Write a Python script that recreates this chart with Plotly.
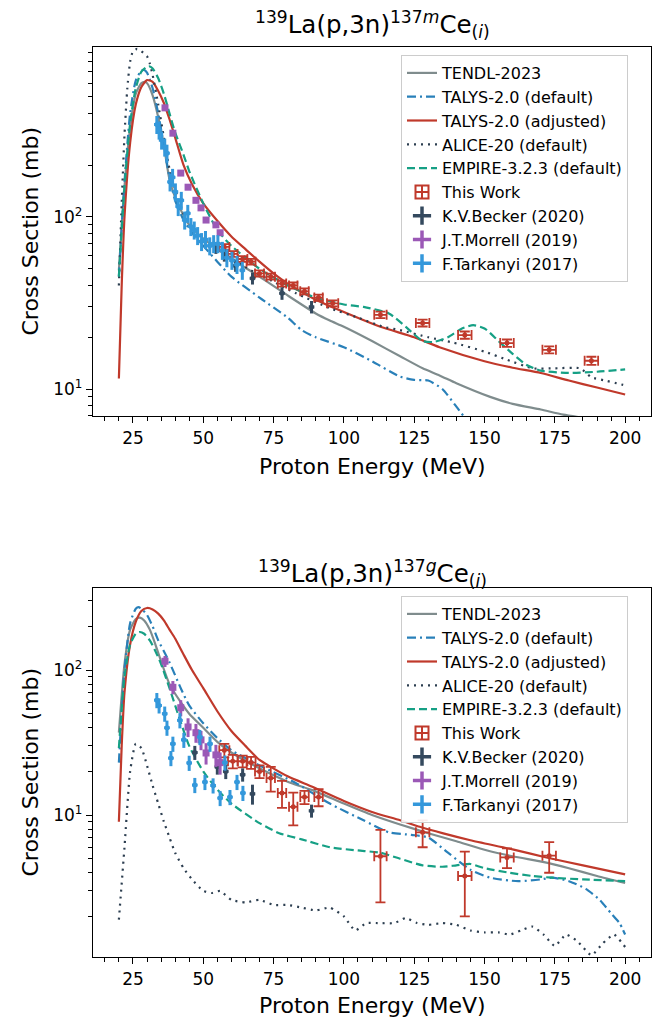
import numpy as np
import plotly.graph_objects as go

# ---------------- Top panel: 139La(p,3n)137mCe ----------------
E_tendl_m = [20, 22, 24, 26, 28, 29.3, 30, 32, 34, 36, 38, 40, 43, 45, 50, 55, 60, 70, 80, 90, 95, 100, 110, 120, 128, 134, 140, 152, 160, 170, 178, 190, 200]
S_tendl_m = [49, 150, 330, 520, 600, 610, 600, 510, 380, 260, 165, 130, 102, 90, 75, 65, 57, 45, 35, 27.5, 25, 23, 19, 15.5, 13.2, 12, 10.8, 9.0, 8.2, 7.6, 7.1, 6.6, 6.2]

E_talys_m = [20, 22, 24, 26, 28, 29, 30, 32, 34, 36, 38, 40, 43, 46, 50, 55, 60, 70, 80, 85, 90, 100, 110, 120, 125, 130, 135, 140, 145, 150, 160, 180, 200]
S_talys_m = [45, 160, 400, 620, 710, 715, 690, 560, 400, 260, 170, 125, 96, 81, 68, 55, 45, 34, 26, 22, 20, 17.5, 14.5, 11.8, 11.3, 11.2, 10, 7.9, 6.2, 5.2, 4.5, 3.8, 3.0]

E_adj_m = [20, 21, 22, 24, 26, 28, 30, 32, 34, 36, 38, 40, 43, 46, 50, 55, 60, 65, 70, 75, 80, 90, 100, 113, 125, 134, 150, 160, 170, 180, 190, 200]
S_adj_m = [11.5, 40, 100, 270, 450, 570, 625, 610, 540, 460, 370, 290, 200, 155, 120, 95, 77, 65, 55, 47, 41, 33, 28, 23, 20, 17.5, 14.5, 13.3, 12.4, 11.2, 10.2, 9.3]

E_alice_m = [20, 21, 22, 23, 24, 25, 26.5, 28, 30, 31, 32, 34, 36, 38, 40, 44, 50, 57, 62, 67, 75, 83, 95, 105, 114, 120, 130, 139, 150, 158, 167, 175, 184, 188, 193, 198, 200]
S_alice_m = [40, 120, 300, 560, 800, 920, 950, 920, 860, 780, 670, 450, 290, 190, 145, 96, 75, 62, 55, 49, 42, 36, 29.5, 26, 23, 22, 20, 18.6, 16.5, 14.8, 13.2, 13.2, 13.2, 11.7, 11.2, 10.7, 10.5]

E_empire_m = [20, 22, 24, 26, 28, 30, 31, 32, 34, 36, 38, 40, 43, 45, 50, 55, 60, 65, 70, 80, 90, 100, 107, 116, 122, 128, 132, 137, 142, 146, 150, 155, 160, 165, 170, 180, 190, 200]
S_empire_m = [45, 150, 350, 560, 700, 745, 750, 730, 640, 520, 400, 310, 230, 185, 120, 84, 68, 58, 50, 40, 34, 31, 30, 27.5, 23, 19, 18.8, 20, 22.5, 23.5, 22.5, 19, 16, 13.8, 12.8, 12.4, 12.6, 13]

E_tw_m = [57.5, 60.5, 64, 67, 70, 74, 78, 82, 86, 91, 96, 113, 128, 143, 158, 173, 188]
S_tw_m = [67, 61, 57, 55, 47, 45, 41, 40, 37, 34, 31.5, 27, 24.2, 20.6, 18.5, 16.9, 14.6]
dS_tw_m = [2.5, 2.3, 2.2, 2.1, 1.9, 1.8, 1.6, 1.6, 1.5, 1.4, 1.3, 1.2, 1.1, 1.0, 0.9, 0.8, 0.8]
dE_tw_m = [1.8, 1.7, 1.7, 1.6, 1.6, 1.5, 1.5, 1.5, 1.5, 1.5, 2.0, 2.2, 2.4, 2.4, 2.4, 2.4, 2.4]

E_becker_m = [54.5, 57.5, 61.5, 67.5, 78, 88.5]
S_becker_m = [66, 60, 52, 44, 36, 30]
dS_becker_m = [5, 5, 4, 3.5, 3, 2.5]

E_morrell_m = [36.4, 39.2, 42, 44.6, 47.4, 49.2, 51, 54.5, 56]
S_morrell_m = [431, 307, 180, 149, 125, 113, 96, 90, 81]
dS_morrell_m = [15, 10, 6, 5, 4, 4, 3, 3, 3]

E_tark_m = [33.5, 34.3, 35.2, 36.3, 37.1, 38.2, 39.1, 40.1, 41.1, 42.2, 43.4, 44.5, 45.6, 46.8, 48.0, 49.4, 50.8, 52.3, 53.7, 55.2, 56.8, 58.4, 60.2, 62.0, 63.9]
S_tark_m = [345, 320, 280, 255, 235, 160, 170, 140, 115, 125, 96, 105, 88, 84, 78, 72, 74, 68, 70, 70, 64, 58, 56, 53, 49]

# ---------------- Bottom panel: 139La(p,3n)137gCe ----------------
E_tendl_g = [20, 22, 24, 26, 27.5, 29, 31, 33, 35, 38, 42, 45, 50, 55, 60, 70, 80, 89, 100, 110, 120, 130, 140, 151, 160, 172, 180, 190, 200]
S_tendl_g = [37, 110, 190, 225, 230, 220, 190, 150, 115, 80, 60, 50, 40, 32, 27, 21, 17, 14.8, 12, 10, 8.6, 7.5, 6.6, 5.7, 5.2, 4.7, 4.3, 3.8, 3.4]

E_talys_g = [20, 22, 24, 26, 27, 28, 30, 32, 34, 36, 38, 42, 45, 50, 55, 60, 70, 83, 95, 107, 116, 124, 130, 137, 145, 152, 162, 170, 174, 180, 186, 191, 195, 198, 200]
S_talys_g = [23, 100, 210, 265, 272, 265, 240, 200, 160, 135, 113, 75, 57, 43, 34, 28, 22, 16.6, 12, 9.2, 7.6, 7.3, 7.0, 5.5, 4.2, 3.7, 3.5, 3.6, 3.7, 3.5, 3.1, 2.6, 2.1, 1.8, 1.5]

E_adj_g = [20, 21, 22, 24, 26, 28, 30, 32, 34, 36, 38, 40, 43, 46, 50, 55, 60, 65, 70, 74, 80, 89, 100, 110, 120, 127, 135, 145, 160, 172, 185, 200]
S_adj_g = [9, 30, 70, 150, 215, 255, 268, 262, 245, 220, 190, 165, 128, 100, 75, 52, 38, 30, 24, 21.5, 18.5, 15.6, 12.5, 10.5, 9.2, 8.3, 7.5, 6.7, 5.8, 5.1, 4.5, 3.9]

E_alice_g = [20, 22, 24, 26, 28, 30, 32, 34, 36, 38, 40, 43, 46, 50, 53, 56, 60, 65, 70, 75, 80, 85, 90, 95, 100, 104, 108, 112, 118, 122, 126, 130, 135, 140, 145, 150, 155, 159, 163, 167, 171, 175, 179, 183, 188, 192, 196, 200]
S_alice_g = [1.9, 6, 20, 31, 29, 22, 16, 12, 9, 7, 5.5, 4.3, 3.6, 3.0, 2.9, 3.0, 2.6, 2.5, 2.6, 2.4, 2.4, 2.3, 2.2, 2.3, 2.0, 1.6, 1.8, 1.8, 1.8, 1.95, 1.8, 1.75, 1.8, 1.75, 1.6, 1.55, 1.55, 1.5, 1.6, 1.7, 1.5, 1.25, 1.5, 1.35, 1.08, 1.3, 1.5, 1.23]

E_empire_g = [20, 22, 24, 26, 27.5, 29, 31, 33, 35, 38, 41, 45, 50, 55, 60, 70, 77, 85, 95, 105, 113, 120, 128, 135, 140, 145, 150, 159, 167, 174, 185, 200]
S_empire_g = [29, 90, 150, 178, 183, 178, 160, 135, 110, 75, 50, 30, 20, 15, 12, 8.8, 7.5, 6.8, 6.0, 5.7, 5.5, 5.0, 4.5, 4.4, 4.5, 4.6, 4.3, 4.0, 3.8, 3.7, 3.6, 3.5]

E_tw_g = [57.5, 60.5, 64, 67, 70, 74, 78, 82, 86, 91, 113, 128, 143, 158, 173]
S_tw_g = [28, 23.5, 23.5, 23, 20, 18, 14.2, 11.4, 13.3, 13.3, 5.2, 7.6, 3.8, 5.1, 5.25]
dS_tw_g = [3, 2.5, 2.2, 2.2, 2, 3.5, 3, 2.9, 1.4, 1.8, 2.7, 1.6, 1.8, 0.8, 1.25]
dE_tw_g = [1.8, 1.7, 1.7, 1.6, 1.6, 1.5, 1.5, 1.5, 1.5, 1.5, 2.2, 2.4, 2.4, 2.4, 2.4]

E_becker_g = [47, 55, 58, 64, 67.5, 88.5]
S_becker_g = [27, 21.5, 20, 19, 14, 10.7]
dS_becker_g = [3, 2.5, 2.3, 2, 2.2, 1.1]

E_morrell_g = [36.4, 39.2, 42, 44.6, 47.4, 49.2, 51, 54.5, 56]
S_morrell_g = [115, 76, 55, 40.5, 37, 33, 26.8, 26, 23]
dS_morrell_g = [10, 8, 7, 6, 5.5, 5, 4.5, 4.5, 4]

E_tark_g = [33.5, 34.3, 36.3, 37.1, 38.5, 39.2, 41.7, 43.1, 45.0, 47.0, 48.8, 50.6, 52.4, 53.5, 56.0, 57.7, 59.5, 62.0, 64.1]
S_tark_g = [62, 57, 50, 40, 24.7, 31, 45, 33, 22.9, 16.1, 34.5, 16.9, 31, 16, 13.1, 23, 13.3, 16.9, 14.2]

# ---------------- styling ----------------
C_TENDL = "#7f8c8d"
C_TALYS = "#2980b9"
C_ADJ = "#c0392b"
C_ALICE = "#2c3e50"
C_EMPIRE = "#16a085"
C_TW = "#c0392b"
C_BECKER = "#34495e"
C_MORRELL = "#9b59b6"
C_TARK = "#3498db"
FONT = "DejaVu Sans, Arial, sans-serif"

fig = go.Figure()


def add_panel(xa, ya, leg, data):
    (Et, St, Ea, Sa, Ej, Sj, Eal, Sal, Ee, Se,
     Etw, Stw, dStw, dEtw, Eb, Sb, dSb, Em, Sm, dSm, Ek, Sk) = data
    common = dict(xaxis=xa, yaxis=ya, legend=leg)
    fig.add_trace(go.Scatter(x=Et, y=St, mode="lines", name="TENDL-2023",
                             line=dict(color=C_TENDL, width=2.2, shape="spline", smoothing=0.6), **common))
    fig.add_trace(go.Scatter(x=Ea, y=Sa, mode="lines", name="TALYS-2.0 (default)",
                             line=dict(color=C_TALYS, width=2.2, dash="9px,4px,2px,4px", shape="spline", smoothing=0.6), **common))
    fig.add_trace(go.Scatter(x=Ej, y=Sj, mode="lines", name="TALYS-2.0 (adjusted)",
                             line=dict(color=C_ADJ, width=2.2, shape="spline", smoothing=0.6), **common))
    fig.add_trace(go.Scatter(x=Eal, y=Sal, mode="lines", name="ALICE-20 (default)",
                             line=dict(color=C_ALICE, width=2.2, dash="2px,5px", shape="spline", smoothing=0.5), **common))
    fig.add_trace(go.Scatter(x=Ee, y=Se, mode="lines", name="EMPIRE-3.2.3 (default)",
                             line=dict(color=C_EMPIRE, width=2.2, dash="8px,4px", shape="spline", smoothing=0.6), **common))
    # experimental data (legend icons added separately to mimic error-bar glyphs)
    fig.add_trace(go.Scatter(x=Etw, y=Stw, mode="markers", name="This Work", showlegend=False,
                             marker=dict(color=C_TW, size=5, symbol="circle"),
                             error_y=dict(type="data", array=dStw, color=C_TW, thickness=1.8, width=5),
                             error_x=dict(type="data", array=dEtw, color=C_TW, thickness=1.8, width=5), **common))
    fig.add_trace(go.Scatter(x=Eb, y=Sb, mode="markers", name="K.V.Becker (2020)", showlegend=False,
                             marker=dict(color=C_BECKER, size=5, symbol="circle"),
                             error_y=dict(type="data", array=dSb, color=C_BECKER, thickness=3, width=0),
                             error_x=dict(type="data", array=[1.0] * len(Eb), color=C_BECKER, thickness=3, width=0), **common))
    fig.add_trace(go.Scatter(x=Em, y=Sm, mode="markers", name="J.T.Morrell (2019)", showlegend=False,
                             marker=dict(color=C_MORRELL, size=7, symbol="square"),
                             error_y=dict(type="data", array=dSm, color=C_MORRELL, thickness=3, width=0),
                             error_x=dict(type="data", array=[0.5] * len(Em), color=C_MORRELL, thickness=3, width=0), **common))
    fig.add_trace(go.Scatter(x=Ek, y=Sk, mode="markers", name="F.Tarkanyi (2017)", showlegend=False,
                             marker=dict(color=C_TARK, size=5, symbol="circle"),
                             error_y=dict(type="data", array=[0.12 * v for v in Sk], color=C_TARK, thickness=3, width=0),
                             error_x=dict(type="data", array=[1.0] * len(Ek), color=C_TARK, thickness=3, width=0), **common))
    # legend glyphs
    for nm, col, sym in [("This Work", C_TW, "square-cross-open"),
                         ("K.V.Becker (2020)", C_BECKER, "cross-thin-open"),
                         ("J.T.Morrell (2019)", C_MORRELL, "cross-thin-open"),
                         ("F.Tarkanyi (2017)", C_TARK, "cross-thin-open")]:
        lw = 2 if sym.startswith("square") else 3.5
        fig.add_trace(go.Scatter(x=[None], y=[None], mode="markers", name=nm,
                                 marker=dict(color=col, size=13, symbol=sym, line=dict(color=col, width=lw)),
                                 **common))


add_panel("x", "y", "legend",
          (E_tendl_m, S_tendl_m, E_talys_m, S_talys_m, E_adj_m, S_adj_m, E_alice_m, S_alice_m,
           E_empire_m, S_empire_m, E_tw_m, S_tw_m, dS_tw_m, dE_tw_m, E_becker_m, S_becker_m, dS_becker_m,
           E_morrell_m, S_morrell_m, dS_morrell_m, E_tark_m, S_tark_m))
add_panel("x2", "y2", "legend2",
          (E_tendl_g, S_tendl_g, E_talys_g, S_talys_g, E_adj_g, S_adj_g, E_alice_g, S_alice_g,
           E_empire_g, S_empire_g, E_tw_g, S_tw_g, dS_tw_g, dE_tw_g, E_becker_g, S_becker_g, dS_becker_g,
           E_morrell_g, S_morrell_g, dS_morrell_g, E_tark_g, S_tark_g))

W, H = 658, 1017
xdom = [93 / W, 651 / W]
ydom_top = [1 - 416 / H, 1 - 47 / H]
ydom_bot = [1 - 957 / H, 1 - 588 / H]

xticks = [25, 50, 75, 100, 125, 150, 175, 200]
xaxis_style = dict(range=[10.8, 209.2], tickvals=xticks, ticks="outside", ticklen=6, tickwidth=1.3,
                   tickcolor="black", showline=True, linecolor="black", linewidth=1.3, mirror=True,
                   showgrid=False, zeroline=False, tickfont=dict(size=17, color="black", family=FONT),
                   minor=dict(dtick=5, tick0=0, ticks="outside", ticklen=3.5, tickcolor="black", tickwidth=1))

minor_top = [7, 8, 9, 20, 30, 40, 50, 60, 70, 80, 90, 200, 300, 400, 500, 600, 700, 800, 900]
minor_bot = [2, 3, 4, 5, 6, 7, 8, 9, 20, 30, 40, 50, 60, 70, 80, 90, 200, 300]
yaxis_common = dict(type="log", tickvals=[10, 100], ticktext=["10<sup>1</sup>", "10<sup>2</sup>"],
                    ticks="outside", ticklen=6, tickwidth=1.3, tickcolor="black", showline=True,
                    linecolor="black", linewidth=1.3, mirror=True, showgrid=False, zeroline=False,
                    tickfont=dict(size=17, color="black", family=FONT))

legend_common = dict(x=401 / W, xanchor="left", yanchor="top", bgcolor="rgba(255,255,255,0.9)",
                     bordercolor="#cccccc", borderwidth=1, font=dict(size=16, family=FONT, color="black"),
                     tracegroupgap=0, itemwidth=30)

fig.update_layout(
    width=W, height=H, margin=dict(l=0, r=0, t=0, b=0),
    paper_bgcolor="white", plot_bgcolor="white",
    font=dict(family=FONT, color="black"),
    xaxis=dict(domain=xdom, anchor="y", **xaxis_style),
    xaxis2=dict(domain=xdom, anchor="y2", **xaxis_style),
    yaxis=dict(domain=ydom_top, anchor="x", range=[np.log10(6.97), np.log10(973)],
               minor=dict(tickvals=minor_top, ticks="outside", ticklen=3.5, tickcolor="black", tickwidth=1),
               **yaxis_common),
    yaxis2=dict(domain=ydom_bot, anchor="x2", range=[np.log10(1.05), np.log10(368)],
                minor=dict(tickvals=minor_bot, ticks="outside", ticklen=3.5, tickcolor="black", tickwidth=1),
                **yaxis_common),
    legend=dict(y=1 - 55 / H, **legend_common),
    legend2=dict(y=1 - 596 / H, **legend_common),
    showlegend=True,
)

xc = (xdom[0] + xdom[1]) / 2
ann = [
    dict(text="<sup>139</sup>La(p,3n)<sup>137<i>m</i></sup>Ce<sub>(<i>i</i>)</sub>", x=xc, y=1 - 24 / H, font=dict(size=24.5)),
    dict(text="<sup>139</sup>La(p,3n)<sup>137<i>g</i></sup>Ce<sub>(<i>i</i>)</sub>", x=xc, y=1 - 573 / H, font=dict(size=24.5)),
    dict(text="Proton Energy (MeV)", x=xc, y=1 - 466 / H, font=dict(size=22)),
    dict(text="Proton Energy (MeV)", x=xc, y=1 - 1005 / H, font=dict(size=22)),
    dict(text="Cross Section (mb)", x=30 / W, y=(ydom_top[0] + ydom_top[1]) / 2, textangle=-90, font=dict(size=22)),
    dict(text="Cross Section (mb)", x=30 / W, y=(ydom_bot[0] + ydom_bot[1]) / 2, textangle=-90, font=dict(size=22)),
]
for a in ann:
    a.update(xref="paper", yref="paper", showarrow=False, xanchor="center", yanchor="middle")
    a["font"].update(family=FONT, color="black")
fig.update_layout(annotations=ann)

fig.write_html("out.html")
